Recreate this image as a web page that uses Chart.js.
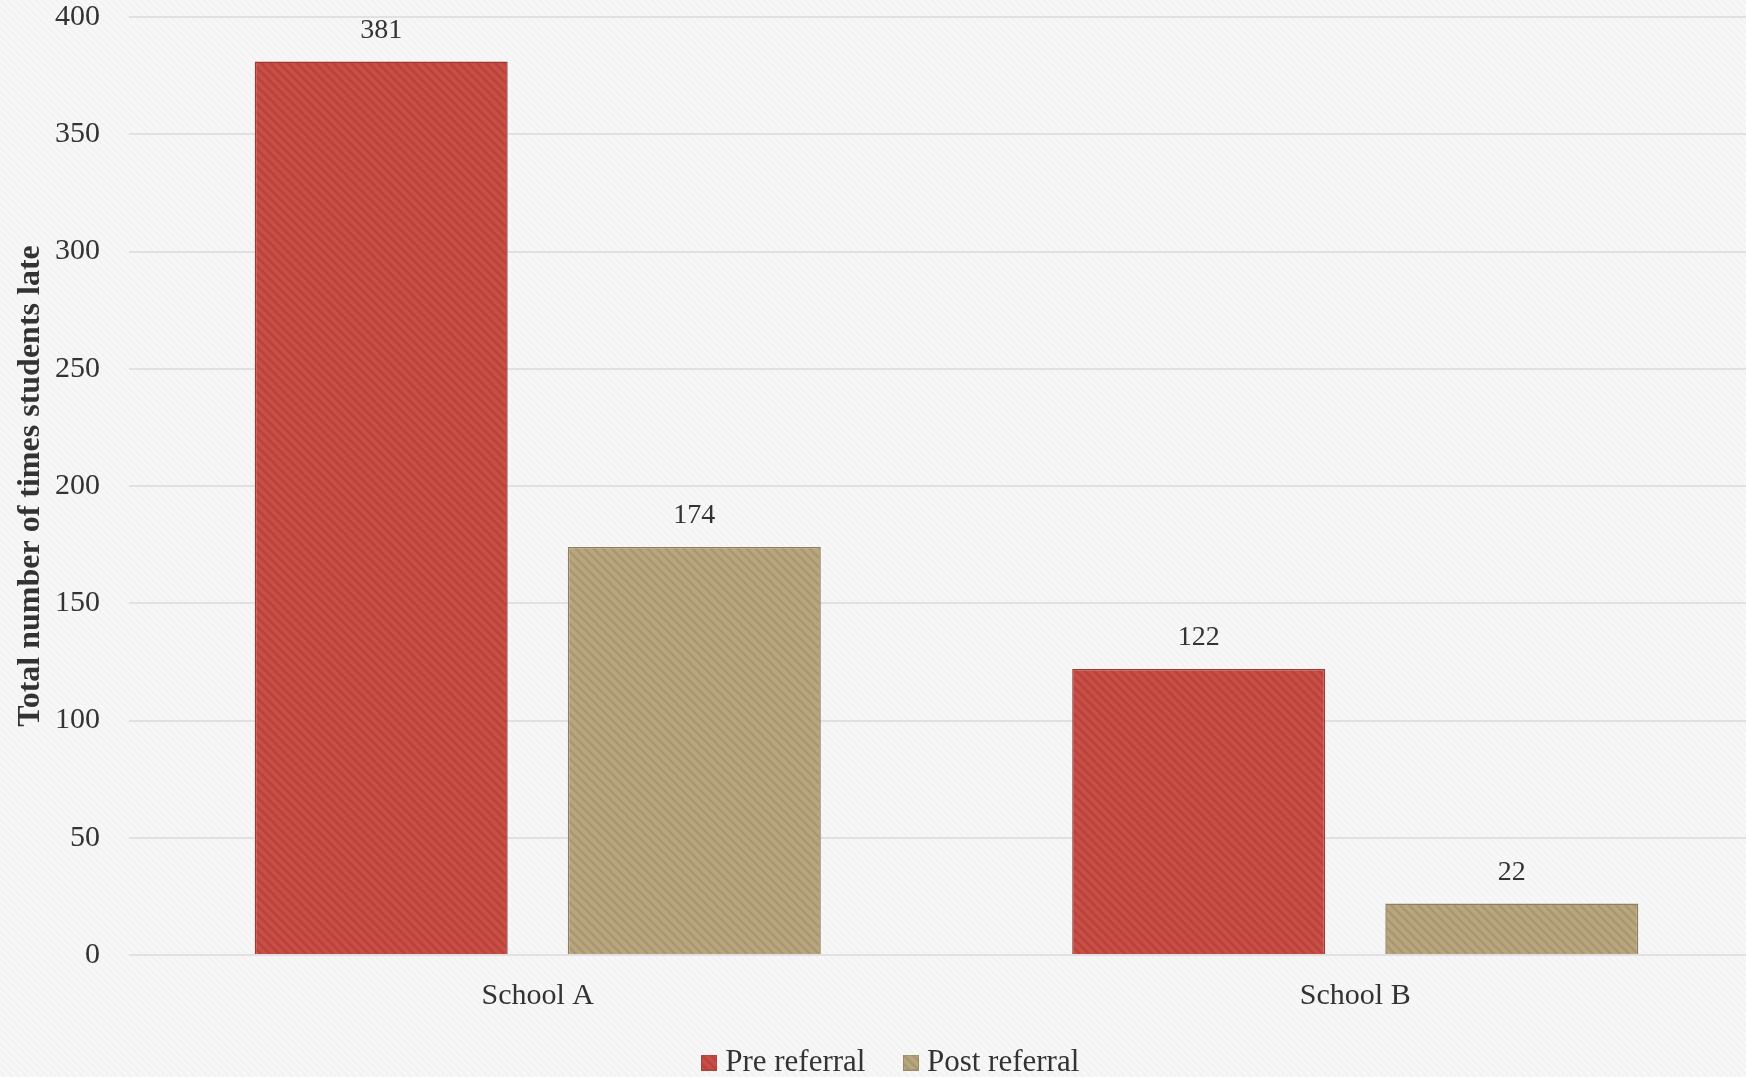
<!DOCTYPE html>
<html>
<head>
<meta charset="utf-8">
<script src="https://cdn.jsdelivr.net/npm/chart.js@4.4.1/dist/chart.umd.min.js"></script>
<style>
  html, body { margin: 0; padding: 0; overflow: hidden; background: #f6f6f6; }
  #wrap { width: 1764px; height: 1077px; position: relative; }
</style>
</head>
<body>
<div id="wrap"><canvas id="c" width="1764" height="1077"></canvas></div>
<script>
// Lateness counts before and after referral, per school
const categories = ['School A', 'School B'];
const seriesNames = ['Pre referral', 'Post referral'];
const preReferral = [381, 122];
const postReferral = [174, 22];
const yTickStep = 50;
const yMax = 400;

const FONT = '"Liberation Serif", "Times New Roman", serif';
const TEXT = '#333333';

// Diagonal hatched tile used for bars and the page background
function stripeTile(base, stripe, size, width) {
  const t = document.createElement('canvas');
  t.width = size; t.height = size;
  const g = t.getContext('2d');
  g.fillStyle = base;
  g.fillRect(0, 0, size, size);
  g.strokeStyle = stripe;
  g.lineWidth = width;
  g.beginPath();
  g.moveTo(-size, 0); g.lineTo(size, 2 * size);
  g.moveTo(0, 0); g.lineTo(size, size);
  g.moveTo(0, -size); g.lineTo(2 * size, size);
  g.stroke();
  return t;
}

const ctx = document.getElementById('c').getContext('2d');
const redTile = stripeTile('#c94e45', '#b9443c', 9, 2.6);
const tanTile = stripeTile('#b8a67f', '#a99771', 9, 2.6);
const redFill = ctx.createPattern(redTile, 'repeat');
const tanFill = ctx.createPattern(tanTile, 'repeat');
const bgFill = ctx.createPattern(stripeTile('#f7f7f7', '#f1f1f1', 7, 1.5), 'repeat');

// Small square swatch for the legend
function swatch(tile, edge) {
  const s = document.createElement('canvas');
  s.width = 16; s.height = 16;
  const g = s.getContext('2d');
  g.fillStyle = g.createPattern(tile, 'repeat');
  g.fillRect(0, 0, 16, 16);
  g.strokeStyle = edge;
  g.lineWidth = 1;
  g.strokeRect(0.5, 0.5, 15, 15);
  return s;
}
const swatches = [swatch(redTile, '#a8453d'), swatch(tanTile, '#9c8b67')];

const backgroundPlugin = {
  id: 'hatchedBackground',
  beforeDraw(chart) {
    const c = chart.ctx;
    c.save();
    c.fillStyle = bgFill;
    c.fillRect(0, 0, chart.width, chart.height);
    c.restore();
  }
};

const valueLabels = {
  id: 'valueLabels',
  afterDatasetsDraw(chart) {
    const c = chart.ctx;
    c.save();
    c.font = '28px ' + FONT;
    c.fillStyle = TEXT;
    c.textAlign = 'center';
    c.textBaseline = 'middle';
    chart.data.datasets.forEach((ds, i) => {
      chart.getDatasetMeta(i).data.forEach((bar, j) => {
        c.fillText(String(ds.data[j]), bar.x, bar.y - 31);
      });
    });
    c.restore();
  }
};

new Chart(ctx, {
  type: 'bar',
  data: {
    labels: categories,
    datasets: [
      { label: seriesNames[0], data: preReferral, backgroundColor: redFill,
        borderColor: '#9c3a33', borderWidth: 1.5, borderSkipped: 'bottom' },
      { label: seriesNames[1], data: postReferral, backgroundColor: tanFill,
        borderColor: '#8f7f5e', borderWidth: 1.5, borderSkipped: 'bottom' }
    ]
  },
  options: {
    responsive: false,
    animation: false,
    devicePixelRatio: 1,
    categoryPercentage: 0.766,
    barPercentage: 0.808,
    layout: { padding: { top: 0, right: 0, bottom: -11, left: 24 } },
    plugins: {
      legend: {
        position: 'bottom',
        labels: {
          font: { family: FONT, size: 31 },
          color: TEXT,
          usePointStyle: true,
          boxWidth: 1,
          boxHeight: 16,
          padding: 14,
          generateLabels(chart) {
            const items = Chart.defaults.plugins.legend.labels.generateLabels(chart);
            items.forEach((it, i) => {
              it.pointStyle = swatches[i];
              // trailing gap before the next entry
              if (i < items.length - 1) it.text = it.text + '    ';
            });
            return items;
          }
        }
      },
      tooltip: { enabled: false }
    },
    scales: {
      x: {
        grid: { display: false, drawTicks: false },
        border: { display: false },
        ticks: { font: { family: FONT, size: 30 }, color: TEXT, padding: 23 },
        afterFit(scale) { scale.height = 78; }
      },
      y: {
        min: 0,
        max: yMax,
        grid: { color: '#e1e1e1', lineWidth: 2, drawTicks: false },
        border: { display: false },
        ticks: { stepSize: yTickStep, font: { family: FONT, size: 30 }, color: TEXT, padding: 29 },
        title: {
          display: true,
          text: 'Total number of times students late',
          font: { family: FONT, size: 32, weight: 'bold' },
          color: TEXT,
          padding: { top: -12, bottom: 0 }
        },
        afterFit(scale) {
          scale.width = 105;
          scale.paddingTop = 17;
          scale.paddingBottom = 0;
        }
      }
    }
  },
  plugins: [backgroundPlugin, valueLabels]
});
</script>
</body>
</html>
